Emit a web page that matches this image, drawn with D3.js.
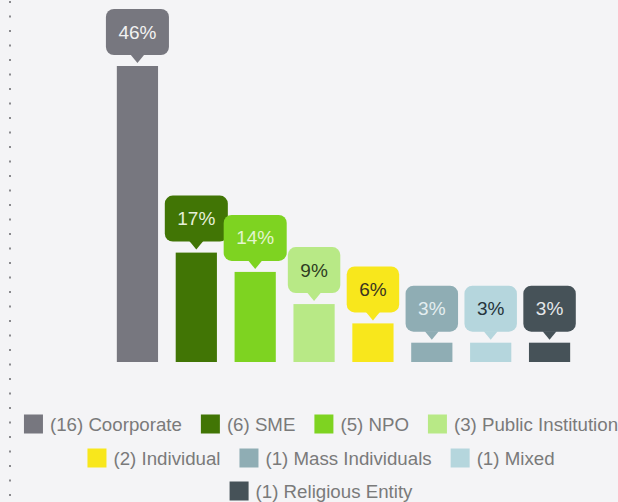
<!DOCTYPE html>
<html><head><meta charset="utf-8">
<script src="https://cdn.jsdelivr.net/npm/d3@7"></script>
<style>html,body{margin:0;padding:0;background:#f4f4f6;}svg{display:block;}</style>
</head><body>
<svg id="chart" width="618" height="502"></svg>
<script>
const categories = ["Coorporate","SME","NPO","Public Institution","Individual","Mass Individuals","Mixed","Religious Entity"];
const counts = [16,6,5,3,2,1,1,1];
const percents = [46,17,14,9,6,3,3,3];
const colors = ["#77777f","#417505","#7ed321","#b8e986","#f8e71c","#8fadb4","#b5d6dd","#465258"];
const labelColors = ["#f2f2f2","#e6efd9","#e3f5cf","#2f3d22","#3a3520","#e4edf0","#26343b","#e4e8ea"];

const svg = d3.select("#chart");
const W = 618, H = 502;

// dotted left rule
svg.append("line").attr("x1",10).attr("x2",10).attr("y1",1).attr("y2",H)
  .attr("stroke","#8a8a8e").attr("stroke-width",2).attr("stroke-dasharray","2,12.5");

const x = d3.scaleBand().domain(categories).range([108,579]).paddingInner(0.3).paddingOuter(0.15);
const y = d3.scaleLinear().domain([0,46]).range([362,66]);

const data = categories.map((c,i)=>({c, n:counts[i], p:percents[i], color:colors[i], lc:labelColors[i]}));

svg.selectAll("rect.bar").data(data).enter().append("rect").attr("class","bar")
  .attr("x",d=>x(d.c)).attr("width",x.bandwidth())
  .attr("y",d=>y(d.p)).attr("height",d=>y(0)-y(d.p)).attr("fill",d=>d.color);

const fontLbl = "19px 'Liberation Sans', Arial, sans-serif";
const g = svg.selectAll("g.tip").data(data).enter().append("g").attr("class","tip");
g.each(function(d){
  const sel = d3.select(this);
  const cx = x(d.c) + x.bandwidth()/2;
  const top = y(d.p);
  const t = sel.append("text").attr("x",cx).attr("y",top-34)
    .attr("text-anchor","middle").attr("dominant-baseline","central")
    .style("font",fontLbl).attr("fill",d.lc).text(d.p+"%");
  const tw = t.node().getComputedTextLength();
  const bw = tw + 25, bh = 46, bb = top - 11;
  sel.insert("path","text").attr("fill",d.color)
    .attr("d",`M${cx-7},${bb-0.5} L${cx},${top-3} L${cx+7},${bb-0.5} Z`);
  sel.insert("rect","text").attr("x",cx-bw/2).attr("y",bb-bh).attr("width",bw).attr("height",bh)
    .attr("rx",8).attr("fill",d.color);
});

// legend
const rows = [[0,1,2,3],[4,5,6],[7]];
const rowY = [424,458,491];
const legFont = "18.7px 'Liberation Sans', Arial, sans-serif";
const sq = 19, gapT = 7, gapItem = 19, cxLeg = 321;
rows.forEach((r,ri)=>{
  const lg = svg.append("g");
  const items = r.map(i=>{
    const it = lg.append("g");
    it.append("rect").attr("width",sq).attr("height",sq).attr("y",rowY[ri]-sq/2).attr("fill",colors[i]);
    const t = it.append("text").attr("x",sq+gapT).attr("y",rowY[ri]).attr("dominant-baseline","central")
      .style("font",legFont).attr("fill","#7a7a7a").text(`(${counts[i]}) ${categories[i]}`);
    return {it, w: sq+gapT+t.node().getComputedTextLength()};
  });
  const total = d3.sum(items,d=>d.w) + gapItem*(items.length-1);
  let xx = cxLeg - total/2;
  items.forEach(o=>{ o.it.attr("transform",`translate(${xx},0)`); xx += o.w + gapItem; });
});
</script>
</body></html>
